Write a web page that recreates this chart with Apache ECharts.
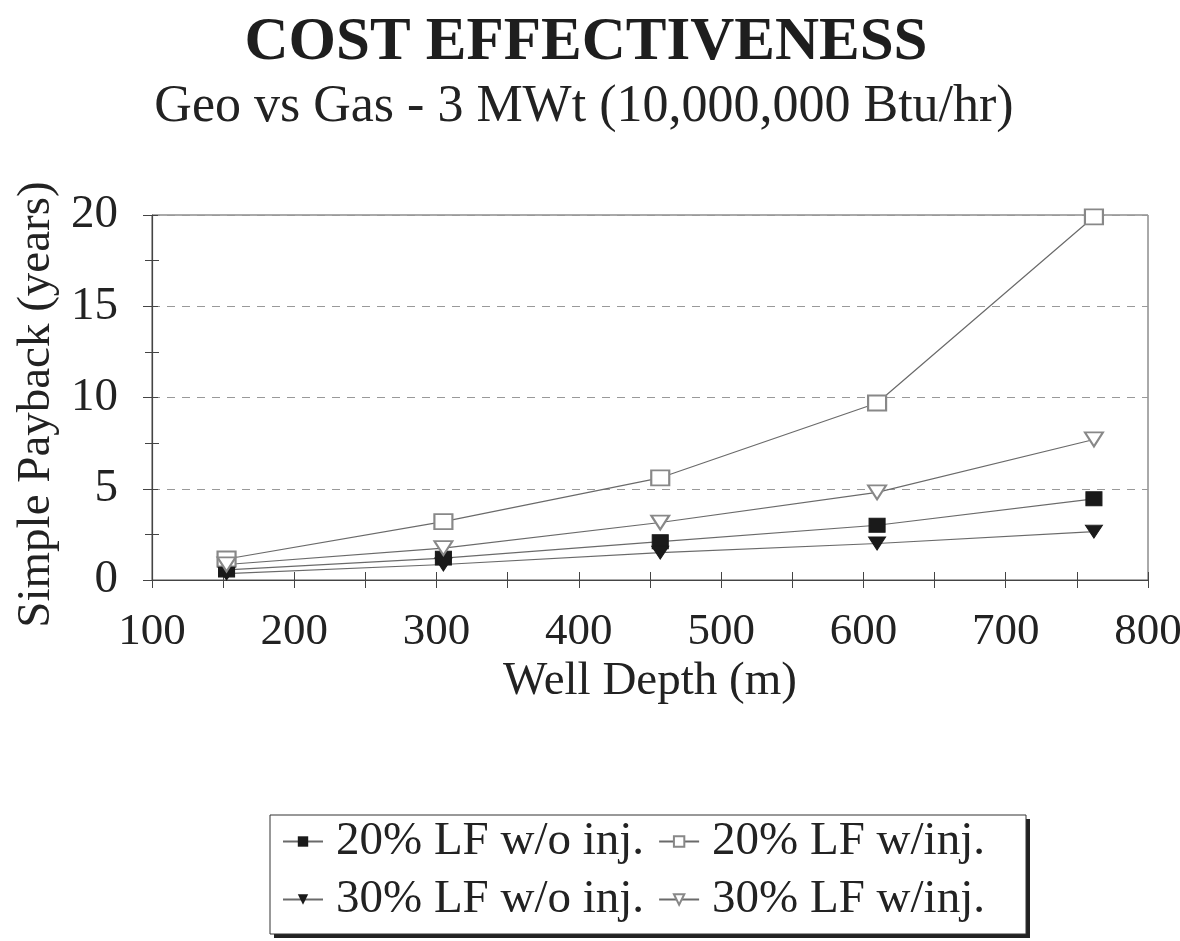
<!DOCTYPE html>
<html><head><meta charset="utf-8">
<script src="https://cdn.jsdelivr.net/npm/echarts@6/dist/echarts.min.js"></script>
<style>html,body{margin:0;padding:0;background:#fff}#c{width:1180px;height:941px}</style>
</head><body><div id="c"></div>
<script>
var depths = [152.4, 304.8, 457.2, 609.6, 762];
var lf20NoInj = [0.55, 1.2, 2.1, 3.0, 4.45];
var lf20Inj = [1.15, 3.2, 5.6, 9.7, 19.9];
var lf30NoInj = [0.35, 0.85, 1.5, 2.0, 2.65];
var lf30Inj = [0.85, 1.75, 3.15, 4.8, 7.7];
var seriesNames = ['20% LF w/o inj.', '20% LF w/inj.', '30% LF w/o inj.', '30% LF w/inj.'];
var xTicks = [100, 200, 300, 400, 500, 600, 700, 800];
var yTicks = [0, 5, 10, 15, 20];

function pairs(v){ return depths.map(function(d,i){ return [d, v[i]]; }); }
var font = 'Liberation Serif, Times New Roman, serif';
var lineCol = '#6a6a6a';
function mk(name, data, symbol, size, rot, filled){
  return {
    name: name, type: 'line', data: pairs(data), xAxisIndex: 0, yAxisIndex: 0,
    symbol: symbol, symbolSize: size, symbolRotate: rot,
    lineStyle: {color: lineCol, width: 1.2},
    itemStyle: filled ? {color: '#1a1a1a', borderColor: '#1a1a1a'} : {color: '#888', borderColor: '#888', borderWidth: 1.2},
    emphasis: {disabled: true}, z: 3
  };
}
var legendCommon = {orient: 'horizontal', itemGap: 14, itemWidth: 40, itemHeight: 13, z: 10,
  textStyle: {fontFamily: font, fontSize: 47, color: '#222', padding: [0, 0, 0, 8]}};
var chart = echarts.init(document.getElementById('c'));
chart.setOption({
  animation: false,
  backgroundColor: '#fff',
  title: [
    {text: 'COST EFFECTIVENESS', left: 581, top: 8, textAlign: 'center',
     textStyle: {fontFamily: font, fontSize: 61, fontWeight: 'bold', color: '#1e1e1e'}},
    {text: 'Geo vs Gas - 3 MWt (10,000,000 Btu/hr)', left: 579, top: 76, textAlign: 'center',
     textStyle: {fontFamily: font, fontSize: 52, fontWeight: 'normal', color: '#222'}}
  ],
  graphic: [
    {type: 'rect', shape: {x: 274, y: 819, width: 756, height: 119}, style: {fill: '#222'}, z: 1},
    {type: 'rect', shape: {x: 270, y: 815, width: 756, height: 119}, style: {fill: '#fff', stroke: '#333', lineWidth: 1}, z: 2}
  ],
  legend: [
    Object.assign({data: [seriesNames[0], seriesNames[1]], left: 277, top: 813}, legendCommon),
    Object.assign({data: [seriesNames[2], seriesNames[3]], left: 277, top: 871}, legendCommon)
  ],
  grid: {left: 152, right: 32, top: 215, bottom: 361, show: true, borderColor: '#555', borderWidth: 1,
         outerBoundsMode: 'none', containLabel: false},
  xAxis: [
    {type: 'value', min: 100, max: 800, interval: 100,
     name: 'Well Depth (m)', nameLocation: 'middle', nameGap: 78,
     nameTextStyle: {fontFamily: font, fontSize: 47, color: '#222'},
     axisLine: {lineStyle: {color: '#444', width: 1.2}},
     axisTick: {show: true, inside: false, length: 8, lineStyle: {color: '#444'}},
     minorTick: {show: true, splitNumber: 2, length: 8, lineStyle: {color: '#444'}},
     splitLine: {show: false},
     axisLabel: {fontFamily: font, fontSize: 45, color: '#222', margin: 30, hideOverlap: false,
       formatter: function(v){ return xTicks.indexOf(v) >= 0 ? String(v) : ''; }}},
    {type: 'value', min: 100, max: 800, interval: 100, position: 'bottom',
     axisLine: {show: false},
     axisTick: {show: true, inside: true, length: 8, lineStyle: {color: '#444'}},
     minorTick: {show: true, splitNumber: 2, length: 8, lineStyle: {color: '#444'}},
     splitLine: {show: false}, axisLabel: {show: false}}
  ],
  yAxis: [
    {type: 'value', min: 0, max: 20, interval: 5,
     name: 'Simple Payback (years)', nameLocation: 'middle', nameGap: 90,
     nameTextStyle: {fontFamily: font, fontSize: 47, color: '#222', padding: [0, 14, 0, 0]},
     axisLine: {show: true, lineStyle: {color: '#444', width: 1.2}},
     axisTick: {show: true, inside: false, length: 9, lineStyle: {color: '#444'}},
     minorTick: {show: true, splitNumber: 2, length: 7, lineStyle: {color: '#444'}},
     splitLine: {show: true, lineStyle: {color: '#999', type: [8, 7], width: 1}},
     axisLabel: {fontFamily: font, fontSize: 47, color: '#222', margin: 34,
       formatter: function(v){ return yTicks.indexOf(v) >= 0 ? String(v) : ''; }}},
    {type: 'value', min: 0, max: 20, interval: 5, position: 'left',
     axisLine: {show: false},
     axisTick: {show: true, inside: true, length: 6, lineStyle: {color: '#444'}},
     minorTick: {show: true, splitNumber: 2, length: 7, lineStyle: {color: '#444'}},
     splitLine: {show: false}, axisLabel: {show: false}}
  ],
  series: [
    mk(seriesNames[0], lf20NoInj, 'rect', [16, 14], 0, true),
    mk(seriesNames[1], lf20Inj, 'emptyRect', [18, 15], 0, false),
    mk(seriesNames[2], lf30NoInj, 'triangle', [17, 13], 180, true),
    mk(seriesNames[3], lf30Inj, 'emptyTriangle', [18, 14], 180, false)
  ]
});
</script></body></html>
